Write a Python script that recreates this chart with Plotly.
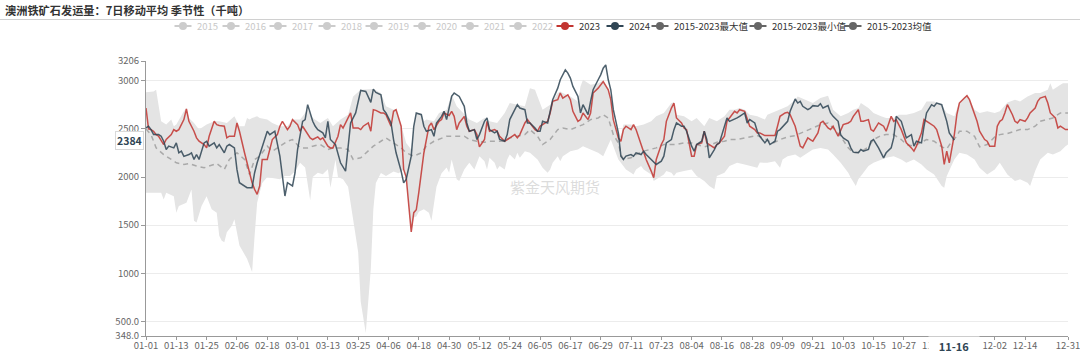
import plotly.graph_objects as go
import pandas as pd

# ---------------- data ----------------
TITLE = "澳洲铁矿石发运量：7日移动平均 季节性（千吨）"
WATERMARK = "紫金天风期货"
BASE_YEAR = "2024"

TICK_LABELS = ["01-01", "01-13", "01-25", "02-06", "02-18", "03-01", "03-13", "03-25",
               "04-06", "04-18", "04-30", "05-12", "05-24", "06-05", "06-17", "06-29",
               "07-11", "07-23", "08-04", "08-16", "08-28", "09-09", "09-21", "10-03",
               "10-15", "10-27", "11-08", "11-20", "12-02", "12-14", "12-31"]
Y_TICKS = [348, 500, 1000, 1500, 2000, 2500, 3000, 3206]
Y_TICK_TEXT = ["348.0", "500.0", "1000", "1500", "2000", "2500", "3000", "3206"]

LEGEND_NAMES = ["2015", "2016", "2017", "2018", "2019", "2020", "2021", "2022",
                "2023", "2024", "2015-2023最大值", "2015-2023最小值", "2015-2023均值"]

POINTER_DATE = "11-16"
POINTER_VALUE = 2384

# day offsets from Jan 1 and values (thousand tonnes)
d2023 = [0, 1, 2, 3, 4, 5, 7, 8, 10, 11, 12, 13, 15, 16, 17, 19, 20, 21, 23, 24, 25, 27, 28, 29, 31, 32, 33, 35,
         36, 37, 39, 40, 41, 42, 43, 44, 45, 46, 48, 49, 50, 52, 53, 54, 56, 57, 58, 60, 61, 62, 64, 65, 66, 68,
         69, 70, 72, 73, 74, 76, 77, 78, 80, 81, 82, 84, 85, 86, 88, 89, 90, 91, 93, 94, 95, 97, 98, 99, 101,
         102, 103, 104, 105, 106, 107, 108, 109, 110, 111, 112, 113, 114, 116, 117, 118, 120, 121, 122, 123,
         124, 126, 127, 128, 130, 131, 132, 134, 135, 136, 138, 139, 140, 142, 143, 144, 146, 147, 148, 150,
         151, 152, 154, 155, 156, 157, 159, 160, 161, 163, 164, 165, 167, 168, 169, 171, 172, 173, 175, 176,
         177, 179, 180, 181, 183, 184, 185, 187, 188, 189, 190, 192, 193, 194, 196, 197, 198, 200, 201, 202,
         204, 205, 206, 208, 209, 210, 212, 213, 214, 216, 217, 218, 220, 221, 222, 223, 225, 226, 227, 229,
         230, 231, 233, 234, 235, 237, 238, 239, 241, 242, 243, 245, 246, 247, 249, 250, 251, 253, 254, 255,
         257, 258, 259, 260, 262, 263, 264, 266, 267, 268, 270, 271, 272, 274, 275, 276, 278, 279, 280, 282,
         283, 284, 286, 287, 288, 290, 291, 292, 293, 295, 296, 297, 299, 300, 301, 303, 304, 305, 307, 308,
         309, 311, 312, 313, 315, 316, 317, 318, 319, 320, 321, 322, 324, 325, 326, 328, 329, 330, 332, 333,
         334, 336, 337, 338, 339, 340, 341, 343, 344, 345, 346, 348, 349, 350, 352, 353, 354, 356, 357, 358,
         360, 361, 362, 364, 365]
v2023 = [2717, 2500, 2493, 2476, 2441, 2424, 2338, 2390, 2441, 2493, 2476, 2493, 2597, 2707, 2579, 2476, 2407,
         2372, 2338, 2303, 2424, 2579, 2545, 2535, 2528, 2407, 2424, 2424, 2562, 2476, 2252, 2148, 2045, 1941,
         1872, 1820, 1907, 2183, 2183, 2286, 2390, 2441, 2528, 2579, 2493, 2528, 2597, 2545, 2476, 2528, 2441,
         2407, 2390, 2417, 2390, 2407, 2321, 2303, 2303, 2424, 2545, 2510, 2614, 2666, 2510, 2510, 2493, 2528,
         2562, 2476, 2700, 2693, 2666, 2666, 2648, 2528, 2683, 2700, 2528, 2079, 2000, 1700, 1430, 1630, 1660,
         1840, 2080, 2250, 2390, 2528, 2562, 2493, 2579, 2597, 2666, 2640, 2683, 2631, 2493, 2562, 2631, 2528,
         2476, 2493, 2441, 2314, 2390, 2579, 2476, 2493, 2476, 2424, 2372, 2390, 2407, 2441, 2407, 2441, 2562,
         2597, 2562, 2493, 2476, 2528, 2545, 2579, 2666, 2786, 2804, 2873, 2821, 2855, 2804, 2683, 2579, 2597,
         2666, 2597, 2666, 2873, 2924, 2959, 2993, 2907, 2804, 2597, 2407, 2372, 2493, 2528, 2493, 2545, 2493,
         2338, 2252, 2183, 2062, 1993, 2183, 2338, 2390, 2579, 2717, 2769, 2614, 2562, 2510, 2493, 2217, 2217,
         2338, 2355, 2476, 2355, 2338, 2303, 2338, 2355, 2424, 2579, 2614, 2683, 2666, 2700, 2683, 2597, 2528,
         2493, 2459, 2459, 2431, 2431, 2431, 2431, 2528, 2631, 2666, 2673, 2648, 2528, 2424, 2321, 2303, 2407,
         2390, 2372, 2459, 2562, 2579, 2510, 2493, 2528, 2424, 2476, 2545, 2562, 2579, 2631, 2700, 2579, 2579,
         2597, 2493, 2476, 2562, 2545, 2528, 2476, 2631, 2579, 2597, 2493, 2424, 2355, 2303, 2269, 2321, 2459,
         2597, 2579, 2545, 2528, 2493, 2321, 2131, 2269, 2148, 2286, 2441, 2648, 2769, 2821, 2845, 2804, 2666,
         2579, 2476, 2390, 2372, 2321, 2321, 2528, 2579, 2597, 2666, 2752, 2648, 2579, 2562, 2597, 2579, 2614,
         2666, 2717, 2786, 2821, 2838, 2769, 2666, 2614, 2510, 2528, 2493, 2493]

d2024 = [0, 1, 2, 3, 5, 6, 7, 8, 9, 11, 12, 13, 14, 15, 17, 18, 19, 20, 21, 23, 24, 25, 27, 28, 29, 31, 32, 33,
         35, 36, 37, 39, 40, 42, 43, 44, 46, 47, 48, 49, 51, 53, 54, 55, 56, 58, 59, 60, 62, 63, 64, 66, 67, 68,
         70, 71, 72, 73, 75, 76, 77, 79, 80, 81, 83, 84, 85, 87, 88, 89, 90, 91, 93, 94, 95, 97, 98, 99, 101,
         102, 103, 105, 106, 107, 109, 110, 111, 113, 114, 115, 117, 118, 119, 121, 122, 123, 124, 126, 127,
         128, 130, 131, 132, 134, 135, 136, 138, 139, 140, 142, 143, 144, 146, 147, 148, 150, 151, 152, 154,
         155, 156, 157, 159, 160, 161, 163, 164, 166, 167, 168, 169, 171, 172, 173, 175, 176, 177, 179, 180,
         181, 182, 183, 184, 185, 187, 188, 189, 190, 192, 193, 194, 196, 197, 198, 200, 201, 202, 204, 205,
         206, 208, 209, 210, 212, 213, 214, 216, 217, 218, 220, 221, 222, 223, 225, 226, 227, 229, 230, 231,
         233, 234, 235, 237, 238, 239, 241, 242, 243, 245, 246, 247, 249, 250, 251, 253, 254, 255, 257, 258,
         259, 260, 262, 263, 264, 266, 267, 268, 270, 271, 272, 274, 275, 276, 278, 279, 280, 282, 283, 284,
         286, 287, 288, 290, 291, 292, 293, 295, 296, 297, 299, 300, 301, 303, 304, 305, 307, 308, 309, 311,
         312, 313, 315, 316, 317, 318, 320]
v2024 = [2510, 2528, 2493, 2441, 2441, 2424, 2372, 2286, 2321, 2303, 2355, 2252, 2269, 2215, 2234, 2252, 2183,
         2234, 2183, 2355, 2372, 2321, 2355, 2303, 2338, 2252, 2321, 2338, 2303, 2079, 1941, 1907, 1889, 1889,
         2045, 2148, 2303, 2390, 2476, 2441, 2476, 2217, 2010, 1803, 1941, 1907, 2045, 2286, 2579, 2597, 2752,
         2579, 2528, 2493, 2459, 2407, 2579, 2390, 2338, 2234, 2148, 2062, 2321, 2562, 2666, 2786, 2900, 2890,
         2838, 2776, 2914, 2880, 2855, 2700, 2666, 2562, 2390, 2252, 2062, 1941, 1976, 2217, 2528, 2666, 2648,
         2528, 2476, 2493, 2424, 2562, 2631, 2683, 2597, 2838, 2873, 2855, 2838, 2735, 2562, 2476, 2493, 2390,
         2441, 2579, 2614, 2493, 2459, 2476, 2390, 2372, 2441, 2597, 2700, 2752, 2717, 2700, 2562, 2562, 2510,
         2476, 2476, 2579, 2562, 2683, 2804, 2924, 3011, 3114, 3080, 3028, 2942, 2838, 2666, 2752, 2648, 2786,
         2907, 3011, 3062, 3131, 3166, 3011, 2907, 2700, 2459, 2217, 2183, 2217, 2234, 2217, 2252, 2234, 2269,
         2234, 2183, 2165, 2131, 2165, 2217, 2355, 2390, 2493, 2562, 2528, 2528, 2476, 2321, 2269, 2338, 2372,
         2476, 2390, 2200, 2286, 2338, 2355, 2528, 2614, 2579, 2597, 2614, 2631, 2666, 2562, 2597, 2562, 2476,
         2424, 2355, 2390, 2338, 2372, 2476, 2493, 2545, 2579, 2683, 2811, 2769, 2786, 2735, 2700, 2717, 2742,
         2735, 2762, 2717, 2742, 2666, 2631, 2579, 2441, 2407, 2372, 2303, 2259, 2252, 2286, 2269, 2286, 2372,
         2390, 2303, 2252, 2200, 2252, 2303, 2407, 2631, 2579, 2493, 2407, 2441, 2321, 2372, 2355, 2528, 2666,
         2752, 2735, 2769, 2752, 2666, 2579, 2459, 2384]

d_mean = [0, 2, 4, 7, 10, 12, 15, 17, 20, 23, 25, 28, 31, 33, 36, 39, 41, 43, 45, 48, 50, 53, 56, 58, 61, 64,
          66, 69, 72, 74, 77, 80, 82, 85, 87, 90, 93, 95, 98, 101, 103, 106, 109, 111, 114, 117, 119, 122, 126,
          128, 131, 134, 136, 139, 142, 144, 147, 150, 152, 155, 157, 160, 163, 165, 168, 171, 173, 176, 179,
          181, 183, 185, 187, 188, 189, 192, 194, 197, 200, 202, 205, 208, 210, 213, 216, 218, 221, 223, 226,
          229, 231, 234, 237, 239, 242, 245, 248, 251, 254, 257, 259, 262, 264, 267, 270, 272, 275, 278, 280,
          283, 286, 288, 291, 293, 296, 299, 301, 304, 307, 309, 312, 315, 317, 319, 321, 322, 325, 328, 330,
          333, 336, 338, 341, 344, 346, 349, 352, 354, 357, 359, 362, 365]
v_mean = [2500, 2441, 2303, 2234, 2183, 2148, 2131, 2141, 2114, 2096, 2114, 2141, 2079, 2183, 2252, 2183, 2027,
          2183, 2217, 2321, 2269, 2321, 2372, 2390, 2303, 2303, 2321, 2338, 2286, 2303, 2303, 2286, 2183, 2200,
          2252, 2321, 2372, 2407, 2355, 2303, 2252, 2217, 2252, 2321, 2372, 2407, 2424, 2424, 2424, 2390, 2372,
          2362, 2372, 2372, 2372, 2407, 2424, 2441, 2493, 2424, 2338, 2390, 2493, 2510, 2493, 2528, 2545, 2597,
          2614, 2648, 2614, 2441, 2355, 2234, 2183, 2200, 2234, 2269, 2286, 2303, 2338, 2338, 2338, 2355, 2355,
          2338, 2314, 2328, 2362, 2372, 2390, 2390, 2407, 2417, 2431, 2400, 2350, 2390, 2417, 2431, 2452, 2486,
          2510, 2545, 2562, 2510, 2424, 2303, 2252, 2259, 2314, 2390, 2431, 2441, 2441, 2390, 2338, 2321, 2362,
          2390, 2372, 2314, 2293, 2372, 2424, 2476, 2476, 2424, 2314, 2338, 2417, 2441, 2452, 2476, 2493, 2493,
          2528, 2579, 2597, 2614, 2666, 2666]

d_max = [0, 3, 4, 5, 6, 8, 10, 11, 12, 15, 16, 17, 19, 21, 24, 27, 29, 32, 35, 36, 37, 39, 40, 41, 42, 44, 45,
         48, 50, 53, 56, 58, 61, 64, 66, 69, 72, 74, 77, 80, 82, 85, 87, 90, 93, 95, 98, 99, 101, 103, 105, 106,
         107, 109, 110, 111, 114, 116, 119, 121, 123, 126, 128, 131, 134, 136, 139, 142, 144, 147, 150, 152, 154,
         155, 157, 160, 163, 164, 165, 168, 171, 172, 173, 176, 179, 181, 183, 184, 185, 187, 188, 189, 192, 194,
         197, 200, 202, 205, 208, 209, 210, 213, 216, 218, 221, 223, 226, 229, 231, 233, 235, 237, 239, 242, 245,
         246, 249, 251, 254, 257, 258, 261, 264, 267, 270, 272, 275, 278, 280, 282, 283, 286, 288, 291, 293, 296,
         298, 301, 304, 307, 309, 312, 315, 317, 320, 322, 324, 325, 328, 330, 333, 336, 338, 341, 344, 346, 349,
         352, 354, 357, 358, 359, 362, 363, 365]
v_max = [2880, 2890, 2907, 2735, 2579, 2545, 2597, 2528, 2545, 2683, 2717, 2614, 2562, 2493, 2545, 2579, 2579,
         2562, 2631, 2579, 2528, 2528, 2614, 2597, 2614, 2631, 2614, 2597, 2562, 2528, 2528, 2597, 2597, 2700,
         2614, 2562, 2614, 2528, 2597, 2648, 2838, 2907, 2907, 2914, 2873, 2735, 2700, 2710, 2540, 2355, 2286,
         2528, 2666, 2666, 2579, 2597, 2580, 2666, 2700, 2855, 2735, 2648, 2597, 2562, 2614, 2579, 2562, 2666,
         2769, 2752, 2735, 2924, 2907, 2838, 2700, 2752, 2873, 2890, 2873, 2838, 2786, 2942, 3011, 2959, 2976,
         3004, 2907, 2804, 2597, 2459, 2424, 2545, 2545, 2528, 2545, 2579, 2631, 2666, 2769, 2776, 2648, 2631,
         2579, 2614, 2528, 2614, 2579, 2631, 2700, 2700, 2717, 2700, 2648, 2631, 2597, 2648, 2683, 2700, 2735,
         2804, 2838, 2804, 2769, 2821, 2845, 2700, 2631, 2666, 2700, 2717, 2769, 2717, 2666, 2631, 2614, 2614,
         2648, 2648, 2666, 2700, 2786, 2786, 2752, 2666, 2631, 2780, 2831, 2855, 2700, 2666, 2683, 2666, 2683,
         2776, 2804, 2786, 2838, 2873, 2873, 2907, 2976, 2907, 2959, 2976, 2976]

d_min = [0, 6, 7, 8, 11, 12, 13, 16, 18, 19, 20, 22, 24, 26, 28, 29, 30, 31, 32, 34, 35, 37, 40, 42, 43, 44, 46,
         48, 50, 53, 55, 57, 59, 61, 63, 65, 66, 68, 70, 72, 73, 75, 76, 78, 80, 81, 84, 85, 87, 89, 90, 91, 93,
         95, 98, 100, 102, 103, 104, 105, 106, 107, 108, 110, 112, 113, 115, 117, 119, 120, 121, 123, 124, 126,
         127, 128, 130, 131, 132, 134, 135, 136, 138, 139, 140, 142, 143, 144, 146, 147, 148, 150, 152, 155, 157,
         159, 160, 161, 163, 164, 165, 168, 171, 173, 176, 179, 181, 184, 185, 187, 188, 189, 190, 192, 193, 194,
         196, 197, 200, 201, 202, 204, 205, 206, 208, 209, 210, 213, 216, 218, 221, 223, 225, 226, 229, 231, 234,
         237, 239, 242, 243, 246, 249, 251, 252, 254, 257, 259, 262, 264, 267, 270, 272, 275, 278, 279, 281, 282,
         284, 286, 288, 291, 293, 296, 299, 301, 304, 307, 309, 312, 315, 316, 317, 320, 322, 325, 328, 330, 333,
         336, 338, 341, 344, 346, 349, 350, 352, 354, 357, 359, 362, 364, 365]
v_min = [1836, 1836, 1767, 1836, 1801, 1630, 1699, 1733, 1870, 1545, 1527, 1699, 1801, 1664, 1630, 1390, 1339,
         1322, 1425, 1493, 1562, 1288, 1151, 1014, 1390, 1733, 1938, 2000, 1990, 1976, 2010, 2010, 2060, 2148,
         2100, 1760, 2000, 2045, 2030, 2080, 1890, 2180, 2000, 1976, 1900, 1733, 1219, 705, 380, 1048, 1664, 1938,
         2041, 2010, 2058, 2040, 2075, 1960, 1650, 1420, 1580, 1590, 1640, 1664, 1630, 1545, 1900, 2040, 2100,
         2045, 2183, 1976, 1958, 2079, 2114, 2148, 2079, 2148, 2217, 2165, 2079, 2200, 2148, 2079, 2114, 2079,
         2183, 2234, 2183, 2252, 2200, 2269, 2252, 2183, 2096, 2045, 2079, 2148, 2217, 2165, 2217, 2269, 2286,
         2321, 2286, 2252, 2217, 2390, 2321, 2183, 2148, 2114, 2079, 2045, 2027, 2079, 2114, 2079, 2027, 1958,
         1976, 2010, 2027, 2062, 2045, 2010, 2045, 2062, 2079, 2010, 1958, 1907, 1872, 2010, 2045, 2114, 2148,
         2131, 2114, 2096, 2150, 2148, 2165, 2096, 2183, 2217, 2234, 2200, 2252, 2286, 2303, 2286, 2234, 2148,
         2045, 1993, 1907, 1976, 2045, 2114, 2148, 2183, 2200, 2217, 2183, 2148, 2183, 2131, 2079, 2027, 1907,
         1889, 2010, 2183, 2252, 2234, 2183, 2096, 2027, 2079, 2148, 2027, 1958, 1976, 1941, 1907, 2062, 2183,
         2252, 2234, 2269, 2321, 2338]

# ---------------- layout constants ----------------
W, H = 1080, 353
ML, MR, MT, MB = 146, 12, 61, 17
PW, PH = W - ML - MR, H - MT - MB
FONT = "Noto Sans CJK SC, Noto Sans, sans-serif"
C2023, C2024 = "#c23531", "#2f4554"


def px2x(px):
    return (px - ML) / PW


def py2y(py):
    return (H - MB - py) / PH


def to_dates(days):
    return pd.Timestamp(BASE_YEAR + "-01-01") + pd.to_timedelta(days, unit="D")


fig = go.Figure()

fig.add_trace(go.Scatter(x=to_dates(d_min), y=v_min, mode="lines", line=dict(width=0, color="#e4e4e4"),
                         showlegend=False, hoverinfo="skip"))
fig.add_trace(go.Scatter(x=to_dates(d_max), y=v_max, mode="lines", line=dict(width=0, color="#e4e4e4"),
                         fill="tonexty", fillcolor="#e4e4e4", showlegend=False, hoverinfo="skip"))
fig.add_trace(go.Scatter(x=to_dates(d_mean), y=v_mean, mode="lines",
                         line=dict(width=1.5, color="#a9a9a9", dash="5px,4px"), showlegend=False))
fig.add_trace(go.Scatter(x=to_dates(d2023), y=v2023, mode="lines", line=dict(width=1.5, color=C2023),
                         opacity=0.85, showlegend=False))
fig.add_trace(go.Scatter(x=to_dates(d2024), y=v2024, mode="lines", line=dict(width=1.5, color=C2024),
                         opacity=0.85, showlegend=False))

tickvals = [BASE_YEAR + "-" + t for t in TICK_LABELS]

fig.update_layout(
    width=W, height=H,
    margin=dict(l=ML, r=MR, t=MT, b=MB, pad=0, autoexpand=False),
    paper_bgcolor="white", plot_bgcolor="white",
    font=dict(family=FONT, size=9.5, color="#666"),
    showlegend=False,
    xaxis=dict(type="date", range=[BASE_YEAR + "-01-01", BASE_YEAR + "-12-31"], automargin=False,
               tickmode="array", tickvals=tickvals, ticktext=TICK_LABELS, ticklabeloverflow="allow",
               ticklabelstandoff=-2,
               showgrid=False, zeroline=False, showline=True, linecolor="#999", linewidth=1,
               ticks="outside", ticklen=3, tickcolor="#999", tickfont=dict(size=9.5, color="#666")),
    yaxis=dict(range=[Y_TICKS[0], Y_TICKS[-1]], tickmode="array", tickvals=Y_TICKS, ticktext=Y_TICK_TEXT,
               automargin=False, showgrid=True, gridcolor="#ececec", gridwidth=1, zeroline=False,
               showline=True, linecolor="#999", linewidth=1,
               ticks="outside", ticklen=4, tickcolor="#999", tickfont=dict(size=9.5, color="#666")),
)

annotations = []
shapes = []

# title and separator
annotations.append(dict(text="<b>" + TITLE + "</b>", xref="paper", yref="paper", x=px2x(3), y=py2y(10),
                        xanchor="left", yanchor="middle", showarrow=False,
                        font=dict(family=FONT, size=11.2, color="#333")))
shapes.append(dict(type="line", xref="paper", yref="paper", x0=px2x(0), x1=px2x(W), y0=py2y(19.5), y1=py2y(19.5),
                   line=dict(color="#d0d0d0", width=1)))

# legend (manual, ECharts-like)
LEG_CX = [183, 231, 278, 327, 374, 422, 470, 518, 565, 615, 660, 758, 853]
LEG_Y = 26
leg_colors = ["#cccccc"] * 8 + [C2023, C2024, "#666666", "#666666", "#666666"]
leg_text_colors = ["#c8c8c8"] * 8 + ["#333"] * 5
for name, cx, col, tcol in zip(LEGEND_NAMES, LEG_CX, leg_colors, leg_text_colors):
    shapes.append(dict(type="line", xref="paper", yref="paper", x0=px2x(cx - 8.5), x1=px2x(cx + 8.5),
                       y0=py2y(LEG_Y), y1=py2y(LEG_Y), line=dict(color=col, width=2)))
    shapes.append(dict(type="circle", xref="paper", yref="paper", x0=px2x(cx - 4), x1=px2x(cx + 4),
                       y0=py2y(LEG_Y + 4), y1=py2y(LEG_Y - 4), fillcolor=col, line=dict(color=col, width=0)))
    annotations.append(dict(text=name, xref="paper", yref="paper", x=px2x(cx + 12), y=py2y(LEG_Y),
                            xanchor="left", yanchor="middle", showarrow=False,
                            font=dict(family=FONT, size=9.5, color=tcol)))

# watermark
annotations.append(dict(text=WATERMARK, xref="paper", yref="paper", x=px2x(555), y=py2y(186),
                        xanchor="center", yanchor="middle", showarrow=False,
                        font=dict(family=FONT, size=15, color="rgba(190,190,190,0.55)")))

# axis pointer labels
annotations.append(dict(text="<b>%d</b>" % POINTER_VALUE, xref="paper", yref="y", x=px2x(129), y=POINTER_VALUE,
                        xanchor="center", yanchor="middle", showarrow=False, bgcolor="white",
                        bordercolor="#d9d9d9", borderwidth=1, borderpad=1,
                        font=dict(family=FONT, size=10.5, color="#2f4554")))
annotations.append(dict(text="<b>%s</b>" % POINTER_DATE, xref="x", yref="paper",
                        x=BASE_YEAR + "-" + POINTER_DATE, y=py2y(345.5), width=48,
                        xanchor="center", yanchor="middle", showarrow=False, bgcolor="white",
                        borderpad=1, font=dict(family=FONT, size=11, color="#2f4554")))

fig.update_layout(annotations=annotations, shapes=shapes)
fig.write_html("out.html")
